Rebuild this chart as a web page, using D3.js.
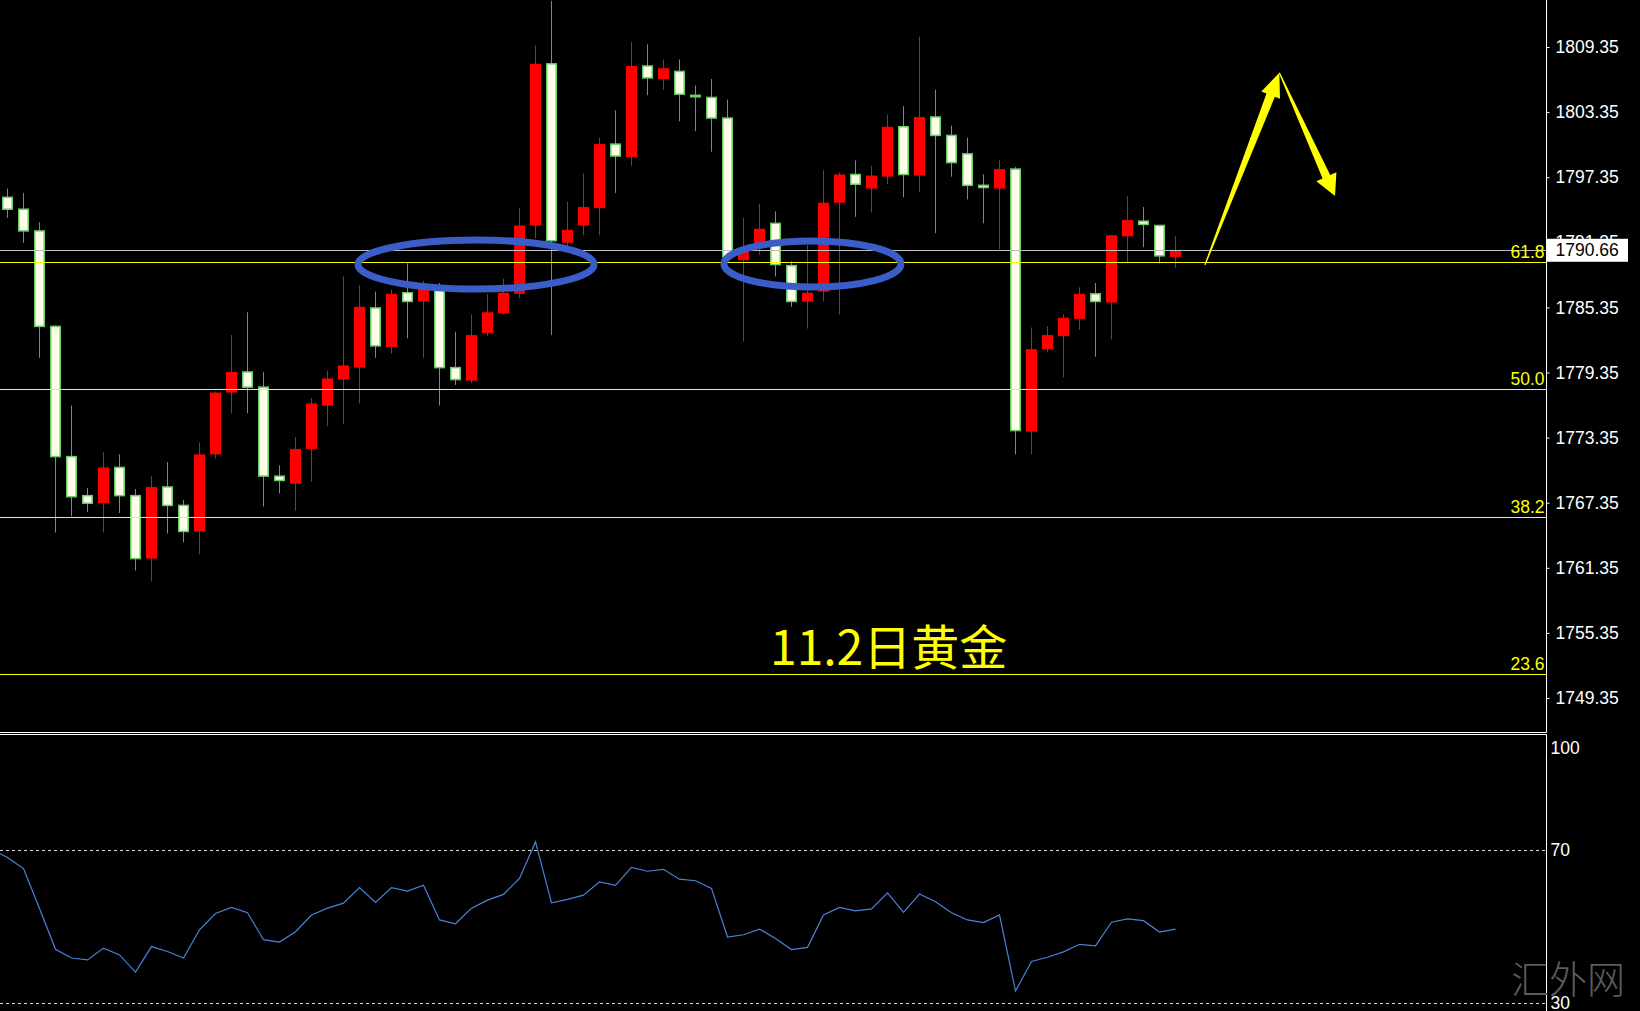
<!DOCTYPE html>
<html><head><meta charset="utf-8">
<script src="https://cdn.jsdelivr.net/npm/d3@7/dist/d3.min.js"></script>
<style>html,body{margin:0;padding:0;background:#000;overflow:hidden}</style>
</head><body><svg id="c" width="1640" height="1011"></svg>
<script>
// ---------- DATA ----------
const openP  = [1795.5,1794.4,1792.4,1783.6,1771.6,1768.0,1767.3,1770.6,1768.0,1762.2,1768.8,1767.1,1764.7,1771.8,1777.5,1779.4,1778.0,1769.8,1769.1,1772.3,1776.3,1778.7,1779.8,1785.3,1781.7,1786.7,1785.9,1787.3,1779.8,1778.6,1783.0,1784.8,1786.6,1792.9,1807.8,1791.3,1792.9,1794.5,1800.4,1799.2,1807.6,1806.4,1807.1,1804.9,1804.7,1802.8,1789.7,1791.0,1793.1,1789.2,1785.9,1786.8,1795.0,1797.6,1796.3,1797.4,1802.0,1797.5,1802.9,1801.2,1799.5,1796.6,1796.3,1798.1,1773.9,1781.5,1782.7,1784.3,1786.6,1785.8,1791.9,1793.3,1792.9,1790.0];
const highP  = [1796.3,1795.9,1793.2,1783.7,1776.3,1768.7,1772.0,1771.8,1768.6,1769.8,1771.1,1767.6,1772.9,1777.6,1782.8,1784.9,1779.4,1770.8,1773.4,1777.0,1779.5,1788.2,1787.4,1786.8,1787.0,1789.4,1787.8,1787.6,1783.1,1784.7,1786.6,1788.0,1794.5,1809.5,1813.6,1795.1,1797.7,1801.0,1803.5,1809.8,1809.6,1808.2,1808.2,1805.8,1806.4,1804.5,1793.6,1794.9,1794.2,1789.6,1791.1,1798.0,1797.8,1798.9,1798.4,1803.1,1803.9,1810.3,1805.4,1802.1,1801.0,1797.6,1798.9,1798.3,1783.5,1783.6,1784.7,1787.2,1787.6,1792.0,1795.6,1794.6,1792.9,1791.9];
const lowP   = [1793.6,1791.3,1780.7,1764.6,1766.1,1766.5,1764.6,1766.4,1761.1,1760.1,1764.5,1763.7,1762.6,1771.4,1775.6,1775.6,1767.0,1768.2,1766.6,1769.3,1774.4,1774.6,1776.5,1780.7,1781.1,1782.5,1780.7,1776.3,1778.2,1778.4,1782.7,1784.7,1786.2,1791.7,1782.8,1790.6,1792.0,1792.0,1795.9,1798.4,1804.9,1805.4,1802.5,1801.6,1799.7,1789.6,1782.2,1790.2,1788.2,1785.4,1783.4,1785.9,1784.7,1793.7,1794.1,1796.7,1795.5,1796.0,1792.2,1797.4,1795.3,1793.1,1790.7,1771.8,1771.8,1781.2,1778.9,1783.3,1780.8,1782.4,1789.5,1790.9,1789.4,1789.0];
const closeP = [1794.4,1792.4,1783.6,1771.6,1767.9,1767.3,1770.6,1768.0,1762.2,1768.8,1767.1,1764.7,1771.8,1777.5,1779.4,1778.0,1769.8,1769.4,1772.3,1776.5,1778.8,1780.0,1785.4,1781.8,1786.6,1785.9,1787.4,1779.8,1778.7,1782.8,1784.9,1786.7,1792.9,1807.8,1791.5,1792.5,1794.6,1800.4,1799.3,1807.6,1806.5,1807.4,1805.0,1804.8,1802.8,1790.0,1790.8,1792.6,1789.3,1785.9,1786.7,1795.0,1797.6,1796.7,1797.5,1802.0,1797.6,1802.9,1801.2,1798.7,1796.6,1796.4,1798.1,1774.0,1781.5,1782.8,1784.4,1786.6,1785.9,1792.0,1793.4,1793.0,1790.1,1790.66];

// RSI, first value belongs to the bar before the first visible candle
const rsiStartIndex = -1;
const rsiValues = [70.3,68.1,65.2,54.7,44.0,41.7,41.2,44.3,42.5,38.0,44.7,43.4,41.7,49.1,53.4,55.0,53.6,46.5,45.9,48.6,53.0,54.8,56.1,60.2,56.3,60.2,59.3,60.8,51.7,50.7,54.8,56.9,58.4,62.6,72.2,56.2,57.1,58.2,61.7,60.8,65.5,64.5,65.0,62.4,62.0,60.0,47.2,47.8,49.3,46.8,43.9,44.5,53.0,55.0,54.1,54.6,58.8,53.7,58.5,56.5,53.6,51.7,51.0,53.0,33.0,40.8,41.9,43.3,45.3,44.9,51.1,52.0,51.5,48.5,49.3];

const priceTicks = [1809.35,1803.35,1797.35,1791.35,1785.35,1779.35,1773.35,1767.35,1761.35,1755.35,1749.35];
const rsiTicks = [100,70,30];
const rsiLevels = [70,30];
const fibLabels = ["61.8","50.0","38.2","23.6"];
const fibPrices = [1789.5,1777.8,1766.0,1751.55];
const lastPrice = 1790.66;
const titleText = "11.2日黄金";
const watermarkText = "汇外网";
// annotations in data units (bar index, price)
const ellipseCenters = [[29.28,1789.3],[50.31,1789.35]];
const ellipseRadii   = [[7.375,2.26],[5.53,2.12]];
const arrowUpPts   = [[74.84,1789.26],[79.49,1806.98]];
const arrowDownPts = [[79.49,1806.98],[82.97,1795.62]];

// ---------- LAYOUT ----------
const W = 1640, H = 1011;
const axisX = 1546.5, mainBottom = 732.5, subTop = 734.5;
const svg = d3.select("#c");
svg.append("rect").attr("width",W).attr("height",H).attr("fill","#000");

const x  = d3.scaleLinear().domain([0, 73]).range([7.5, 1175.5]);
const y  = d3.scaleLinear().domain([1749.35, 1809.35]).range([698, 47]);
const yr = d3.scaleLinear().domain([30, 70]).range([1002.5, 850.3]);
const crisp = v => Math.round(v) + 0.5;

const defs = svg.append("defs");
defs.append("clipPath").attr("id","mainClip").append("rect").attr("x",0).attr("y",0).attr("width",axisX).attr("height",mainBottom);
defs.append("clipPath").attr("id","subClip").append("rect").attr("x",0).attr("y",subTop+1).attr("width",axisX).attr("height",H-subTop);

const main = svg.append("g").attr("clip-path","url(#mainClip)");

// candles
const bars = d3.range(openP.length).map(i => ({i, o:openP[i], h:highP[i], l:lowP[i], c:closeP[i]}));
const RED = "#ff0000", WHITE_FILL = "#fdfde8", GREEN_EDGE = "#6acb6a", GREEN_WICK = "#3fb53f";
const g = main.append("g");
g.selectAll("line.wick").data(bars).join("line")
  .attr("class","wick")
  .attr("x1", d => x(d.i)).attr("x2", d => x(d.i))
  .attr("y1", d => y(d.h)).attr("y2", d => y(d.l))
  .attr("stroke", d => d.c >= d.o ? RED : GREEN_WICK).attr("stroke-width",1);
g.selectAll("rect.up").data(bars.filter(d => d.c >= d.o)).join("rect")
  .attr("class","up")
  .attr("x", d => x(d.i) - 5.5).attr("width", 11)
  .attr("y", d => y(d.c)).attr("height", d => Math.max(1.5, y(d.o) - y(d.c)))
  .attr("fill", RED);
g.selectAll("rect.dn").data(bars.filter(d => d.c < d.o)).join("rect")
  .attr("class","dn")
  .attr("x", d => x(d.i) - 4.75).attr("width", 9.5)
  .attr("y", d => y(d.o)).attr("height", d => Math.max(1.5, y(d.c) - y(d.o)))
  .attr("fill", WHITE_FILL).attr("stroke", GREEN_EDGE).attr("stroke-width",1.5);

// fib lines
main.selectAll("line.fib").data(fibPrices).join("line")
  .attr("class","fib").attr("x1",0).attr("x2",axisX)
  .attr("y1", d => crisp(y(d))).attr("y2", d => crisp(y(d)))
  .attr("stroke","#ffff00").attr("stroke-width",1);
// current price line
main.append("line").attr("x1",0).attr("x2",axisX)
  .attr("y1", crisp(y(lastPrice))).attr("y2", crisp(y(lastPrice)))
  .attr("stroke","#c0c0c0").attr("stroke-width",1);

// fib labels
const labelFont = "'Liberation Sans', Arial, sans-serif";
main.selectAll("text.fibl").data(fibPrices).join("text")
  .attr("class","fibl").attr("x", axisX - 2).attr("y", d => y(d) - 4)
  .attr("text-anchor","end").attr("fill","#ffff00")
  .style("font-family",labelFont).style("font-size","17.5px")
  .text((d,i) => fibLabels[i]);

// ellipses
main.selectAll("ellipse").data(ellipseCenters).join("ellipse")
  .attr("cx", d => x(d[0])).attr("cy", d => y(d[1]))
  .attr("rx", (d,i) => x(d[0] + ellipseRadii[i][0]) - x(d[0]))
  .attr("ry", (d,i) => y(d[1] - ellipseRadii[i][1]) - y(d[1]))
  .attr("fill","none").attr("stroke","#3b5dc9").attr("stroke-width",7);

// arrows
function arrowPoly(pts, tailHalf, shaftHalf, headLen, headHalf){
  const p0 = [x(pts[0][0]), y(pts[0][1])], p1 = [x(pts[1][0]), y(pts[1][1])];
  const dx = p1[0]-p0[0], dy = p1[1]-p0[1], L = Math.hypot(dx,dy);
  const u = [dx/L, dy/L], n = [-u[1], u[0]];
  const B = [p1[0]-headLen*u[0], p1[1]-headLen*u[1]];
  const P = (c,k) => [c[0]+k*n[0], c[1]+k*n[1]];
  return [P(p0,tailHalf), P(B,shaftHalf), P(B,headHalf), p1, P(B,-headHalf), P(B,-shaftHalf), P(p0,-tailHalf)];
}
main.append("polygon").attr("points", arrowPoly(arrowUpPts, 0.6, 4.5, 24, 10).map(p=>p.join(",")).join(" ")).attr("fill","#ffff00");
main.append("polygon").attr("points", arrowPoly(arrowDownPts, 0.6, 4.2, 21, 11).map(p=>p.join(",")).join(" ")).attr("fill","#ffff00");

// title
main.append("text").attr("x",770).attr("y",665)
  .attr("fill","#ffff00")
  .style("font-family","'Noto Sans CJK SC', sans-serif").style("font-size","48px")
  .text(titleText);

// ---------- RIGHT PRICE AXIS ----------
const yAxis = d3.axisRight(y).tickValues(priceTicks).tickSize(3).tickPadding(6).tickFormat(d3.format(".2f"));
const ya = svg.append("g").attr("transform",`translate(${axisX},0)`).call(yAxis);
ya.select(".domain").remove();
ya.selectAll("line").attr("stroke","#fff");
ya.selectAll("text").attr("fill","#fff").style("font-family",labelFont).style("font-size","17.5px");

// last price box
svg.append("rect").attr("x",axisX+0.5).attr("y",y(lastPrice)-11).attr("width",81).attr("height",23).attr("fill","#fff");
svg.append("text").attr("x",axisX+9).attr("y",y(lastPrice)).attr("dy","0.35em")
  .attr("fill","#000").style("font-family",labelFont).style("font-size","17.5px")
  .text(d3.format(".2f")(lastPrice));

// ---------- FRAME ----------
svg.append("line").attr("x1",axisX).attr("x2",axisX).attr("y1",0).attr("y2",mainBottom).attr("stroke","#fff");
svg.append("line").attr("x1",axisX).attr("x2",axisX).attr("y1",subTop).attr("y2",H).attr("stroke","#fff");
svg.append("line").attr("x1",0).attr("x2",axisX).attr("y1",mainBottom).attr("y2",mainBottom).attr("stroke","#fff");
svg.append("line").attr("x1",0).attr("x2",axisX).attr("y1",subTop).attr("y2",subTop).attr("stroke","#fff");

// ---------- RSI PANEL ----------
const sub = svg.append("g").attr("clip-path","url(#subClip)");
sub.selectAll("line.lvl").data(rsiLevels).join("line")
  .attr("class","lvl").attr("x1",0).attr("x2",axisX)
  .attr("y1", d => crisp(yr(d))).attr("y2", d => crisp(yr(d)))
  .attr("stroke","#d8d8d8").attr("stroke-width",1).attr("stroke-dasharray","3,3");
sub.append("path").datum(rsiValues)
  .attr("d", d3.line().x((d,i) => x(i + rsiStartIndex)).y(d => yr(d)))
  .attr("fill","none").attr("stroke","#4a82d8").attr("stroke-width",1.2);

// watermark
svg.append("text").attr("x",1511).attr("y",993)
  .attr("fill","#5c5c5c")
  .style("font-family","'Noto Sans CJK SC', sans-serif").style("font-size","38px").style("font-weight","300")
  .text(watermarkText);

const rAxis = d3.axisRight(yr).tickValues(rsiTicks).tickSize(0).tickPadding(4).tickFormat(d3.format("d"));
const ra = svg.append("g").attr("transform",`translate(${axisX},0)`).call(rAxis);
ra.select(".domain").remove();
ra.selectAll("text").attr("fill","#fff").style("font-family",labelFont).style("font-size","17.5px")
  .attr("y", d => Math.max(0, subTop + 13 - yr(d)));
</script>
</body></html>
